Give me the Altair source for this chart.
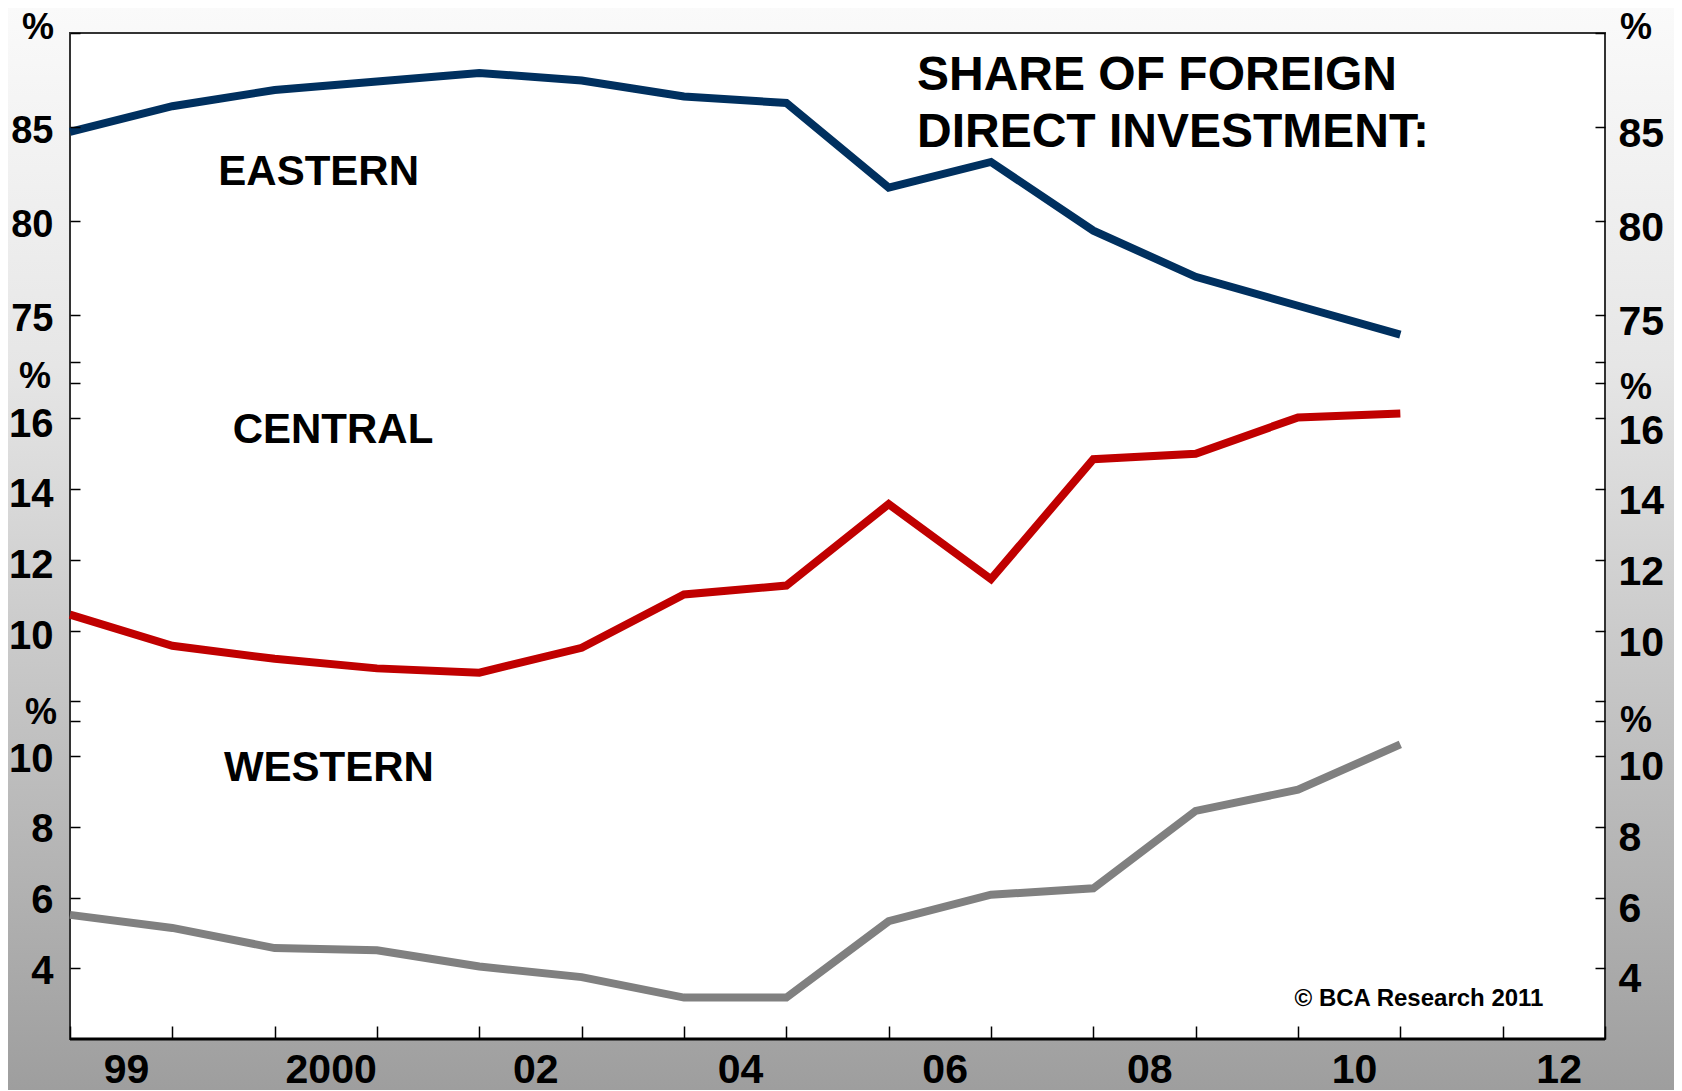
import altair as alt
import pandas as pd

# ---------------- data ----------------
t_index = list(range(14))
eastern = [84.73, 86.10, 86.96, 87.42, 87.87, 87.47, 86.62, 86.27, 81.76, 83.13, 79.47, 77.01, 75.47, 73.93]
central = [10.45, 9.57, 9.20, 8.93, 8.81, 9.51, 11.02, 11.27, 13.57, 11.45, 14.84, 14.99, 16.02, 16.13]
western = [5.51, 5.14, 4.57, 4.51, 4.05, 3.75, 3.17, 3.17, 5.33, 6.08, 6.26, 8.45, 9.05, 10.33]

x_tick_labels = ["99", "2000", "02", "04", "06", "08", "10", "12"]
panel_names = ["EASTERN", "CENTRAL", "WESTERN"]
title_lines = ["SHARE OF FOREIGN", "DIRECT INVESTMENT:"]
copyright_text = "\u00a9 BCA Research 2011"
unit_label = "%"

eastern_ticks = [72.5, 75, 80, 85, 90]
eastern_labeled = [75, 80, 85]
central_ticks = [8, 10, 12, 14, 16, 17]
central_labeled = [10, 12, 14, 16]
western_ticks = [4, 6, 8, 10, 11]
western_labeled = [4, 6, 8, 10]

df = pd.DataFrame({"t": t_index, "eastern": eastern, "central": central, "western": western})
one = pd.DataFrame({"k": [0]})

# ---------------- layout ----------------
W, H = 1535, 1006
PAD = {"left": 62, "top": 25, "right": 69, "bottom": 51}
FONT = "Liberation Sans"

xscale = alt.Scale(domain=[0, 15], nice=False, zero=False)

panels = [
    dict(col="eastern", color="#00305f", domain=[72.5, 90], rng=[328.5, 0],
         ticks=eastern_ticks, labeled=eastern_labeled, name=panel_names[0], lx=2.43, ly=82.61,
         lsize=38, loff=4.5, roff=8),
    dict(col="central", color="#c00000", domain=[8, 17], rng=[668.3, 349.7],
         ticks=central_ticks, labeled=central_labeled, name=panel_names[1], lx=2.57, ly=15.66,
         lsize=40, loff=6, roff=13),
    dict(col="western", color="#808080", domain=[2, 11], rng=[1006, 687.7],
         ticks=western_ticks, labeled=western_labeled, name=panel_names[2], lx=2.53, ly=9.66,
         lsize=40, loff=3, roff=11.5),
]

js_labels = "[" + ",".join("'" + s + "'" for s in x_tick_labels) + "]"
x_axis = alt.Axis(
    orient="bottom", values=list(range(16)),
    labelExpr=f"datum.value % 2 == 0 ? {js_labels}[datum.value / 2] : ''",
    offset=-13, tickSize=13, domain=False, grid=False, tickColor="black", tickWidth=1.5,
    labelOffset=56, labelPadding=11, labelBaseline="top", labelFont=FONT, labelFontWeight="bold",
    labelFontSize=41, labelColor="black", labelFlush=False, labelOverlap=False, title=None, zindex=1,
)


def y_axis(p, orient):
    labeled = "[" + ",".join(str(v) for v in p["labeled"]) + "]"
    return alt.Axis(
        orient=orient, values=p["ticks"],
        labelExpr=f"indexof({labeled}, datum.value) >= 0 ? datum.label : ''",
        offset=-10, tickSize=10, domain=False, grid=False, tickColor="black", tickWidth=1.5,
        labelPadding=17 if orient == "left" else 13,
        labelOffset=p["loff"] if orient == "left" else p["roff"],
        labelFont=FONT, labelFontWeight="bold",
        labelFontSize=p["lsize"] if orient == "left" else 41,
        labelColor="black", labelFlush=False, labelOverlap=False, title=None, zindex=1,
    )


gradient = {
    "gradient": "linear", "x1": 0, "y1": 0, "x2": 0, "y2": 1,
    "stops": [
        {"offset": 0.0, "color": "#fafafa"},
        {"offset": 0.33, "color": "#e6e6e6"},
        {"offset": 0.64, "color": "#c4c4c4"},
        {"offset": 1.0, "color": "#9e9e9e"},
    ],
}

layers = []
layers.append(
    alt.Chart(one).mark_rect(fill=gradient).encode(
        x=alt.value(-PAD["left"]), x2=alt.value(W + PAD["right"]),
        y=alt.value(-PAD["top"]), y2=alt.value(H + PAD["bottom"]),
    )
)
layers.append(
    alt.Chart(one).mark_rect(fill="white", stroke="#333333", strokeWidth=2).encode(
        x=alt.value(0), x2=alt.value(W), y=alt.value(0), y2=alt.value(H),
    )
)

for i, p in enumerate(panels):
    ys = alt.Scale(domain=p["domain"], range=p["rng"], nice=False, zero=False)
    left = alt.Chart(df).mark_line(color=p["color"], strokeWidth=8).encode(
        x=alt.X("t:Q", scale=xscale, axis=x_axis if i == 0 else None),
        y=alt.Y(f"{p['col']}:Q", scale=ys, axis=y_axis(p, "left")),
    )
    right = alt.Chart(df).mark_line(color=p["color"], strokeWidth=8, opacity=0).encode(
        x=alt.X("t:Q", scale=xscale, axis=None),
        y=alt.Y(f"{p['col']}:Q", scale=ys, axis=y_axis(p, "right")),
    )
    label = alt.Chart(one).mark_text(
        font=FONT, fontWeight="bold", fontSize=42, color="black", align="center", baseline="middle"
    ).encode(
        x=alt.XDatum(p["lx"], scale=xscale, axis=None),
        y=alt.YDatum(p["ly"], scale=ys, axis=None),
        text=alt.value(p["name"]),
    )
    layers += [left, right, label]

# bottom axis line
layers.append(
    alt.Chart(one).mark_rule(color="black", strokeWidth=3).encode(
        x=alt.value(0), x2=alt.value(W), y=alt.value(H)
    )
)

# "%" unit labels at the top of each panel, both sides
pct_pos = [(-32, -5), (W + 31, -5), (-35, 344), (W + 31, 355), (-29, 680), (W + 31, 688)]
for px, py in pct_pos:
    layers.append(
        alt.Chart(one).mark_text(
            font=FONT, fontWeight="bold", fontSize=36, color="black", align="center", baseline="middle"
        ).encode(x=alt.value(px), y=alt.value(py), text=alt.value(unit_label))
    )

# title
for line, py in zip(title_lines, [43.3, 100.0]):
    layers.append(
        alt.Chart(one).mark_text(
            font=FONT, fontWeight="bold", fontSize=48, color="black", align="left", baseline="middle"
        ).encode(x=alt.value(847), y=alt.value(py), text=alt.value(line))
    )

# copyright
layers.append(
    alt.Chart(one).mark_text(
        font=FONT, fontWeight="bold", fontSize=24, color="black", align="center", baseline="middle"
    ).encode(x=alt.value(1349), y=alt.value(966), text=alt.value(copyright_text))
)

chart = (
    alt.layer(*layers)
    .resolve_scale(y="independent")
    .resolve_axis(x="independent", y="independent")
    .properties(width=W, height=H, autosize=alt.AutoSizeParams(type="none"), padding=PAD, background="white")
    .configure_view(strokeWidth=0)
)

chart.save("out.html", embed_options={"renderer": "svg", "actions": False})
